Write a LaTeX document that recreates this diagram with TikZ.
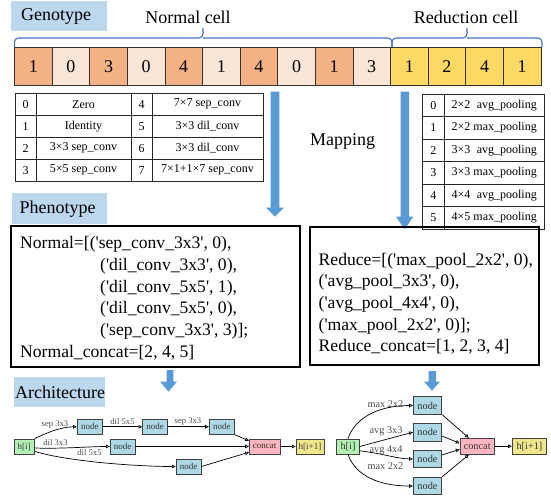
\documentclass[tikz,border=0pt]{standalone}
\usepackage{fontspec}
\setmainfont{Liberation Serif}
\newfontfamily\codefont{Liberation Serif}[Ligatures=TeXOff]
\usetikzlibrary{arrows.meta}
\definecolor{lblue}{HTML}{BDD7EE}
\definecolor{odark}{HTML}{F4B183}
\definecolor{olight}{HTML}{FBE5D6}
\definecolor{yel}{HTML}{FFD966}
\definecolor{bracec}{HTML}{4472C4}
\definecolor{arrowc}{HTML}{5B9BD5}
\definecolor{gnodec}{HTML}{ADD8E6}
\definecolor{ghic}{HTML}{B4F0B4}
\definecolor{gcatc}{HTML}{FFB6C1}
\definecolor{goutc}{HTML}{F0E68C}
\newcommand\setfs[1]{\fontsize{#1}{#1}\selectfont}
\begin{document}
\begin{tikzpicture}[x=1pt,y=-1pt,
  headtxt/.style={anchor=west,inner sep=0,font=\setfs{18}},
  cellbox/.style={draw=black!80,line width=0.6pt,minimum width=37.6pt,minimum height=37.7pt,inner sep=0,font=\setfs{18}},
  tabtxt/.style={inner sep=0,font=\setfs{12}},
  tabline/.style={draw=black!85,line width=0.7pt},
  codetxt/.style={anchor=base west,inner sep=0,font=\codefont\setfs{17.6}},
  brace/.style={draw=bracec,line width=1.1pt,rounded corners=4pt},
  bigarrow/.style={fill=arrowc},
  gbox/.style={draw=black!75,line width=0.8pt,inner sep=0,text=black!80},
  gnL/.style={gbox,fill=gnodec,minimum width=25pt,minimum height=15pt,font=\setfs{9}},
  gnR/.style={gbox,fill=gnodec,minimum width=28.4pt,minimum height=17.5pt,font=\setfs{10.3}},
  glabL/.style={inner sep=0,text=black!70,font=\setfs{8.6}},
  glabR/.style={inner sep=0,text=black!70,font=\setfs{10.3}},
  ge/.style={draw=black,line width=0.7pt,-{Triangle[open,length=3.8pt,width=3.6pt]}}
]
\useasboundingbox (0,0) rectangle (551,495);

% ---------- Genotype ----------
\fill[lblue] (11,1) rectangle (107,31);
\node[headtxt] (geno) at (21,16) {Genotype};
\node[inner sep=0,font=\setfs{18}] (normlab) at (188,17) {Normal cell};
\node[inner sep=0,font=\setfs{18}] (redlab) at (466,17) {Reduction cell};

% braces
\draw[brace] (14.5,47) |- (203,38) -- (203,28);
\draw[brace] (392,47) |- (203,38);
\draw[brace] (392,47) |- (467,38) -- (467,28);
\draw[brace] (542,47) |- (467,38);

% cells
\foreach \v/\c [count=\i from 0] in {1/odark,0/olight,3/odark,0/olight,4/odark,1/olight,4/odark,0/olight,1/odark,3/olight,1/yel,2/yel,4/yel,1/yel}
  \node[cellbox,fill=\c] (cell\i) at ({14.5+37.6*\i+18.8},66.2) {\v};

% ---------- left table ----------
\draw[tabline] (15,93.3) rectangle (263,181);
\foreach \yy in {115,137,159} \draw[tabline] (15,\yy) -- (263,\yy);
\foreach \xx in {36,131,152} \draw[tabline] (\xx,93.3) -- (\xx,181);
\foreach \a/\b/\c/\d [count=\r from 0] in {0/Zero/4/7×7 sep\_conv,1/Identity/5/3×3 dil\_conv,2/3×3 sep\_conv/6/3×3 dil\_conv,3/5×5 sep\_conv/7/7×1+1×7 sep\_conv}{
  \node[tabtxt] (la\r) at (25.5,{104.2+22*\r}) {\a};
  \node[tabtxt] (lb\r) at (83.5,{104.2+22*\r}) {\b};
  \node[tabtxt] (lc\r) at (141.5,{104.2+22*\r}) {\c};
  \node[tabtxt] (ld\r) at (207.5,{104.2+22*\r}) {\d};
}

% ---------- right table ----------
\draw[tabline] (422.7,94.3) rectangle (544,229);
\foreach \k in {1,...,5} \draw[tabline] (422.7,{94.3+22.45*\k}) -- (544,{94.3+22.45*\k});
\draw[tabline] (444,94.3) -- (444,229);
\foreach \b [count=\r from 0] in {2×2\hspace{3.3pt} avg\_pooling,2×2 max\_pooling,3×3\hspace{3.3pt} avg\_pooling,3×3 max\_pooling,4×4\hspace{3.3pt} avg\_pooling,4×5 max\_pooling}{
  \node[tabtxt] (ra\r) at (433.3,{94.3+22.45*(\r+0.5)}) {\r};
  \node[tabtxt,anchor=west] (rb\r) at (451.5,{94.3+22.45*(\r+0.5)}) {\b};
}

% mapping arrows
\node[inner sep=0,font=\setfs{18}] (mapping) at (342.5,141.7) {Mapping};
\path[bigarrow] (270.7,91.7) -- (279.3,91.7) -- (279.3,207.5) -- (284,207.5) -- (275,216.7) -- (266,207.5) -- (270.7,207.5) -- cycle;
\path[bigarrow] (400.5,91.7) -- (409,91.7) -- (409,216.7) -- (413.3,216.7) -- (404.7,229.3) -- (396,216.7) -- (400.5,216.7) -- cycle;

% ---------- Phenotype ----------
\fill[lblue] (12,193) rectangle (107,224);
\node[headtxt] (pheno) at (19.5,209.5) {Phenotype};

\draw[line width=1.7pt] (11,226) rectangle (300,367);
\node[codetxt] (nl1) at (20,248.5) {Normal=[('sep\_conv\_3x3', 0),};
\node[codetxt] (nl2) at (100,270.3) {('dil\_conv\_3x3', 0),};
\node[codetxt] (nl3) at (100,292) {('dil\_conv\_5x5', 1),};
\node[codetxt] (nl4) at (100,313.8) {('dil\_conv\_5x5', 0),};
\node[codetxt] (nl5) at (100,335.6) {('sep\_conv\_3x3', 3)];};
\node[codetxt] (nl6) at (20,357.5) {Normal\_concat=[2, 4, 5]};

\draw[line width=1.7pt] (310,227) rectangle (539,365);
\node[codetxt] (rl1) at (318.5,265) {Reduce=[('max\_pool\_2x2', 0),};
\node[codetxt] (rl2) at (318.5,286.7) {('avg\_pool\_3x3', 0),};
\node[codetxt] (rl3) at (318.5,308.3) {('avg\_pool\_4x4', 0),};
\node[codetxt] (rl4) at (318.5,330) {('max\_pool\_2x2', 0)];};
\node[codetxt] (rl5) at (318.5,351.7) {Reduce\_concat=[1, 2, 3, 4]};

% small arrows
\path[bigarrow] (166.7,370) -- (173.3,370) -- (173.3,381.5) -- (177,381.5) -- (168.5,391.7) -- (160,381.5) -- (166.7,381.5) -- cycle;
\path[bigarrow] (428.5,371) -- (436,371) -- (436,381.5) -- (440,381.5) -- (432,390.7) -- (424,381.5) -- (428.5,381.5) -- cycle;

% ---------- Architecture ----------
\fill[lblue] (14,377) rectangle (105,407);
\node[headtxt] (arch) at (15,392) {Architecture};

% left graph
\node[gbox,fill=ghic,minimum width=20.3pt,minimum height=15pt,font=\setfs{9}] (hiL) at (24.2,446.5) {h[i]};
\node[gnL] (n1) at (89.8,426.8) {node};
\node[gnL] (n2) at (155.2,426.8) {node};
\node[gnL] (n3) at (221.8,426.8) {node};
\node[gnL] (n4) at (122.5,446.5) {node};
\node[gnL] (n5) at (188.5,466.5) {node};
\node[gbox,fill=gcatc,minimum width=30.7pt,minimum height=15pt,font=\setfs{9}] (catL) at (264.7,446.5) {concat};
\node[gbox,fill=goutc,minimum width=28pt,minimum height=15pt,font=\setfs{9}] (outL) at (310,446.5) {h[i+1]};

\draw[ge] (hiL.north east) .. controls (48,432) and (62,426.8) .. (n1.west);
\draw[ge] (hiL.-8) .. controls (60,449) and (90,446.5) .. (n4.west);
\draw[ge] (hiL.-25) .. controls (70,462) and (140,466.5) .. (n5.west);
\draw[ge] (n1.east) -- (n2.west);
\draw[ge] (n2.east) -- (n3.west);
\draw[ge] (n3.south east) -- (catL.160);
\draw[ge] (n4.east) -- (catL.west);
\draw[ge] (n5.east) -- (catL.200);
\draw[ge] (catL.east) -- (outL.west);

\node[glabL] (lab1) at (55,424.5) {sep 3x3};
\node[glabL] (lab2) at (122.5,421.3) {dil 5x5};
\node[glabL] (lab3) at (188,421.3) {sep 3x3};
\node[glabL] (lab4) at (55.5,442.3) {dil 3x3};
\node[glabL] (lab5) at (89.5,453) {dil 5x5};

% right graph
\node[gbox,fill=ghic,minimum width=22.6pt,minimum height=15pt,font=\setfs{10.3}] (hiR) at (348,446.5) {h[i]};
\node[gnR] (na) at (427.5,405.5) {node};
\node[gnR] (nb) at (427.5,432.2) {node};
\node[gnR] (nc) at (427.5,458.9) {node};
\node[gnR] (nd) at (427.5,486) {node};
\node[gbox,fill=gcatc,minimum width=34.3pt,minimum height=16pt,font=\setfs{10.3}] (catR) at (477.2,446.3) {concat};
\node[gbox,fill=goutc,minimum width=34.4pt,minimum height=16pt,font=\setfs{10.3}] (outR) at (529.5,446.3) {h[i+1]};

\draw[ge] (hiR.north) .. controls (355,418) and (378,405.5) .. (na.west);
\draw[ge] (hiR.east) -- (nb.west);
\draw[ge] (hiR.-20) .. controls (385,454) and (398,458.9) .. (nc.west);
\draw[ge] (hiR.south) .. controls (355,475) and (378,486) .. (nd.west);
\draw[ge] (na.south east) -- (catR.135);
\draw[ge] (nb.-15) -- (catR.170);
\draw[ge] (nc.15) -- (catR.190);
\draw[ge] (nd.north east) -- (catR.225);
\draw[ge] (catR.east) -- (outR.west);

\node[glabR] (lab6) at (385.5,404) {max 2x2};
\node[glabR] (lab7) at (386,430.7) {avg 3x3};
\node[glabR] (lab8) at (386,449.8) {avg 4x4};
\node[glabR] (lab9) at (385.5,466.5) {max 2x2};
\end{tikzpicture}
\end{document}
